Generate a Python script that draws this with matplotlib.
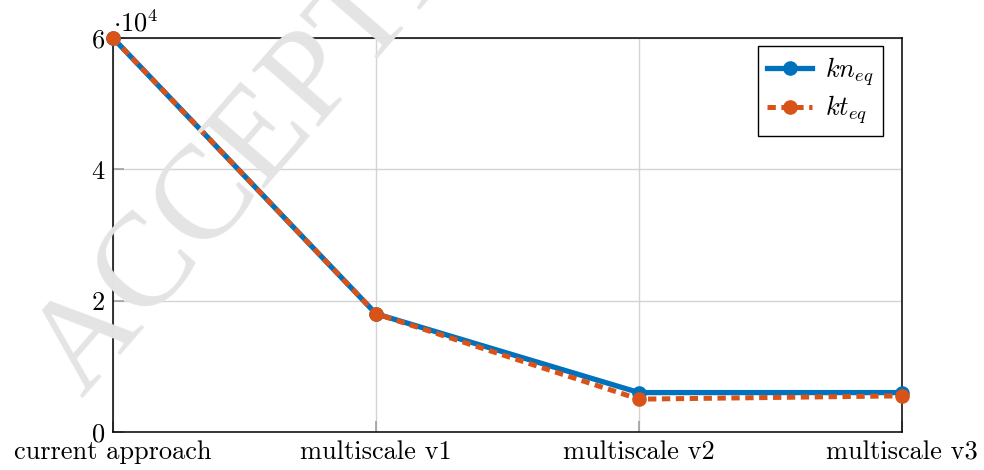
import matplotlib
matplotlib.use('Agg')
import matplotlib.pyplot as plt
from matplotlib.ticker import FuncFormatter

plt.rcParams['font.family'] = ['cmr10', 'DejaVu Serif']
plt.rcParams['mathtext.fontset'] = 'cm'
plt.rcParams['axes.formatter.use_mathtext'] = True
plt.rcParams['lines.scale_dashes'] = False

categories = ['current approach', 'multiscale v1', 'multiscale v2', 'multiscale v3']
kn_eq = [60000, 18000, 6000, 6000]
kt_eq = [60000, 18000, 5000, 5500]
y_ticks = [0, 20000, 40000, 60000]

BLUE = '#0072BD'
ORANGE = '#D95319'

fig = plt.figure(figsize=(9.84, 4.7), dpi=100)
ax = fig.add_axes([0.1148, 0.0809, 0.8019, 0.8383])
ax.patch.set_alpha(0)

# diagonal watermark behind everything
fig.text(82 / 984, 1 - 398 / 470, 'ACCEPTED MANUSCRIPT', family='Liberation Serif',
         fontsize=96, color='#e4e4e4', rotation=49, rotation_mode='anchor',
         ha='left', va='baseline', zorder=0)

x = list(range(len(categories)))
ax.plot(x, kn_eq, color=BLUE, lw=3.8, marker='o', ms=9.5, label=r'$kn_{eq}$',
        clip_on=False, zorder=3)
ax.plot(x, kt_eq, color=ORANGE, lw=3.6, marker='o', ms=9.5, label=r'$kt_{eq}$',
        dashes=(6, 4), clip_on=False, zorder=4)

ax.set_xlim(0, len(categories) - 1)
ax.set_ylim(0, 60000)
ax.set_xticks(x)
ax.set_xticklabels(categories)
ax.set_yticks(y_ticks)
ax.yaxis.set_major_formatter(FuncFormatter(lambda v, _: f'{v / 1e4:g}'))
ax.text(0, 1.005, r'$\cdot 10^4$', transform=ax.transAxes, ha='left', va='bottom',
        fontsize=19)

ax.grid(True, color='#d4d4d4', lw=1.0)
ax.tick_params(direction='in', length=8, width=1.2, color='#a0a0a0',
               labelsize=19, pad=6)
for side in ax.spines.values():
    side.set_color('black')
    side.set_linewidth(1.1)

leg = ax.legend(loc='upper right', bbox_to_anchor=(0.976, 0.98), fontsize=19,
                fancybox=False, framealpha=1, edgecolor='black',
                handlelength=1.7, handletextpad=0.5, borderpad=0.35,
                labelspacing=0.2, borderaxespad=0)
leg.get_frame().set_linewidth(1.0)

fig.savefig('out.png', dpi=100)
